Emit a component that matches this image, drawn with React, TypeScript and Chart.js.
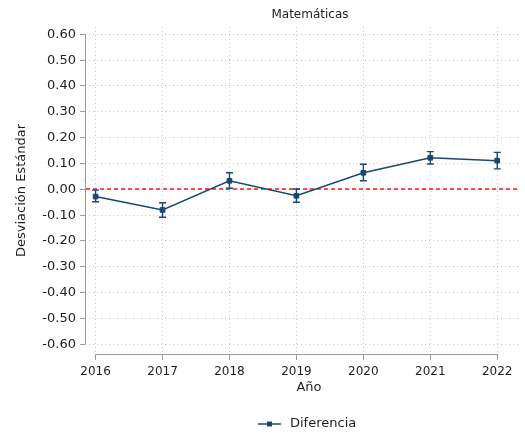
import React, { useEffect, useRef } from "react";
import { Chart, registerables } from "chart.js";

Chart.register(...registerables);

// ---- data ----
const years = [2016, 2017, 2018, 2019, 2020, 2021, 2022];
const diferencia = [-0.028, -0.080, 0.033, -0.025, 0.064, 0.122, 0.111];
const ciLower = [-0.048, -0.108, 0.004, -0.050, 0.033, 0.098, 0.079];
const ciUpper = [-0.003, -0.052, 0.064, 0.001, 0.097, 0.146, 0.143];
const yTicks = [-0.6, -0.5, -0.4, -0.3, -0.2, -0.1, 0, 0.1, 0.2, 0.3, 0.4, 0.5, 0.6];
const referenceValue = 0;
const seriesLabel = "Diferencia";
const chartTitle = "Matemáticas";
const xTitle = "Año";
const yTitle = "Desviación Estándar";

const NAVY = "rgb(26,71,111)";
const AXIS = "#9a9a9a";
const GRID = "#c8c8c8";
const TEXT = "#1e1e1e";
const FONT = "'DejaVu Sans', Verdana, sans-serif";

const decorPlugin = {
  id: "decor",
  beforeDatasetsDraw(chart: any) {
    const { ctx, chartArea, scales } = chart;
    const x = scales.x;
    const y = scales.y;
    ctx.save();
    // axis lines
    ctx.strokeStyle = AXIS;
    ctx.lineWidth = 1;
    ctx.setLineDash([]);
    ctx.beginPath();
    const ax = Math.round(chartArea.left) + 0.5;
    ctx.moveTo(ax, y.getPixelForValue(yTicks[yTicks.length - 1]));
    ctx.lineTo(ax, y.getPixelForValue(yTicks[0]));
    const ay = Math.round(chartArea.bottom) + 0.5;
    ctx.moveTo(x.getPixelForValue(years[0]), ay);
    ctx.lineTo(x.getPixelForValue(years[years.length - 1]), ay);
    ctx.stroke();
    // reference line
    ctx.strokeStyle = "rgb(255,20,20)";
    ctx.lineWidth = 1.5;
    ctx.setLineDash([4, 3]);
    const ry = Math.round(y.getPixelForValue(referenceValue));
    ctx.beginPath();
    ctx.moveTo(chartArea.left + 1, ry);
    ctx.lineTo(chartArea.right, ry);
    ctx.stroke();
    // error bars
    ctx.setLineDash([]);
    ctx.strokeStyle = NAVY;
    ctx.lineWidth = 1.4;
    const cap = 3.5;
    years.forEach((yr, i) => {
      const px = x.getPixelForValue(yr);
      const lo = y.getPixelForValue(ciLower[i]);
      const hi = y.getPixelForValue(ciUpper[i]);
      ctx.beginPath();
      ctx.moveTo(px, lo);
      ctx.lineTo(px, hi);
      ctx.moveTo(px - cap, lo);
      ctx.lineTo(px + cap, lo);
      ctx.moveTo(px - cap, hi);
      ctx.lineTo(px + cap, hi);
      ctx.stroke();
    });
    ctx.restore();
  },
  afterDraw(chart: any) {
    const { ctx } = chart;
    ctx.save();
    ctx.fillStyle = TEXT;
    ctx.textAlign = "center";
    ctx.textBaseline = "middle";
    ctx.font = `12px ${FONT}`;
    ctx.fillText(chartTitle, 310, 15);
    ctx.font = `13px ${FONT}`;
    ctx.fillText(xTitle, 309, 388);
    // legend
    const ds = chart.data.datasets[0];
    const ly = 424;
    ctx.strokeStyle = ds.borderColor;
    ctx.lineWidth = 1.5;
    ctx.beginPath();
    ctx.moveTo(258, ly);
    ctx.lineTo(281, ly);
    ctx.stroke();
    ctx.fillStyle = ds.pointBackgroundColor;
    ctx.fillRect(267, ly - 2.5, 5, 5);
    ctx.fillStyle = TEXT;
    ctx.textAlign = "left";
    ctx.font = `13px ${FONT}`;
    ctx.fillText(ds.label, 290, ly);
    ctx.restore();
  },
};

export default function App() {
  const ref = useRef<HTMLCanvasElement | null>(null);
  useEffect(() => {
    if (!ref.current) return;
    const chart = new Chart(ref.current, {
      type: "line",
      data: {
        datasets: [
          {
            label: seriesLabel,
            data: years.map((yr, i) => ({ x: yr, y: diferencia[i] })),
            borderColor: NAVY,
            backgroundColor: NAVY,
            pointBackgroundColor: NAVY,
            pointBorderColor: NAVY,
            borderWidth: 1.5,
            pointStyle: "rect",
            pointRadius: 3.3,
            pointBorderWidth: 1,
            tension: 0,
          },
        ],
      },
      options: {
        animation: false,
        responsive: false,
        layout: { padding: { top: 27, left: 0, right: 0, bottom: 0 } },
        plugins: {
          legend: { display: false },
          title: { display: false },
          tooltip: { enabled: false },
        },
        scales: {
          x: {
            type: "linear",
            min: 2015.842,
            max: 2022.34,
            afterBuildTicks: (s: any) => {
              s.ticks = years.map((v) => ({ value: v }));
            },
            afterFit: (s: any) => {
              s.height = 80;
            },
            border: { display: false, dash: [1, 3] },
            grid: {
              color: GRID,
              lineWidth: 1,
              drawTicks: true,
              tickLength: 6,
              tickColor: AXIS,
              tickBorderDash: [],
              tickWidth: 1,
            },
            ticks: {
              color: TEXT,
              font: { family: FONT, size: 12 },
              padding: 5,
              maxRotation: 0,
              autoSkip: false,
              callback: (v: any) => String(v),
            },
          },
          y: {
            type: "linear",
            min: -0.6375,
            max: 0.6283,
            afterBuildTicks: (s: any) => {
              s.ticks = yTicks.map((v) => ({ value: v }));
            },
            afterFit: (s: any) => {
              s.width = 85;
            },
            border: { display: false, dash: [1, 3] },
            grid: {
              color: GRID,
              lineWidth: 1,
              drawTicks: true,
              tickLength: 5,
              tickColor: AXIS,
              tickBorderDash: [],
              tickWidth: 1,
            },
            ticks: {
              color: TEXT,
              font: { family: FONT, size: 13 },
              padding: 4,
              callback: (v: any) => Number(v).toFixed(2),
            },
            title: {
              display: true,
              text: yTitle,
              color: TEXT,
              font: { family: FONT, size: 13 },
              padding: { top: 14, bottom: 0 },
            },
          },
        },
      },
      plugins: [decorPlugin],
    } as any);
    return () => chart.destroy();
  }, []);
  return (
    <div style={{ position: "absolute", left: 0, top: 0, width: 525, height: 434, background: "#fff" }}>
      <canvas ref={ref} width={525} height={434} style={{ display: "block" }} />
    </div>
  );
}
